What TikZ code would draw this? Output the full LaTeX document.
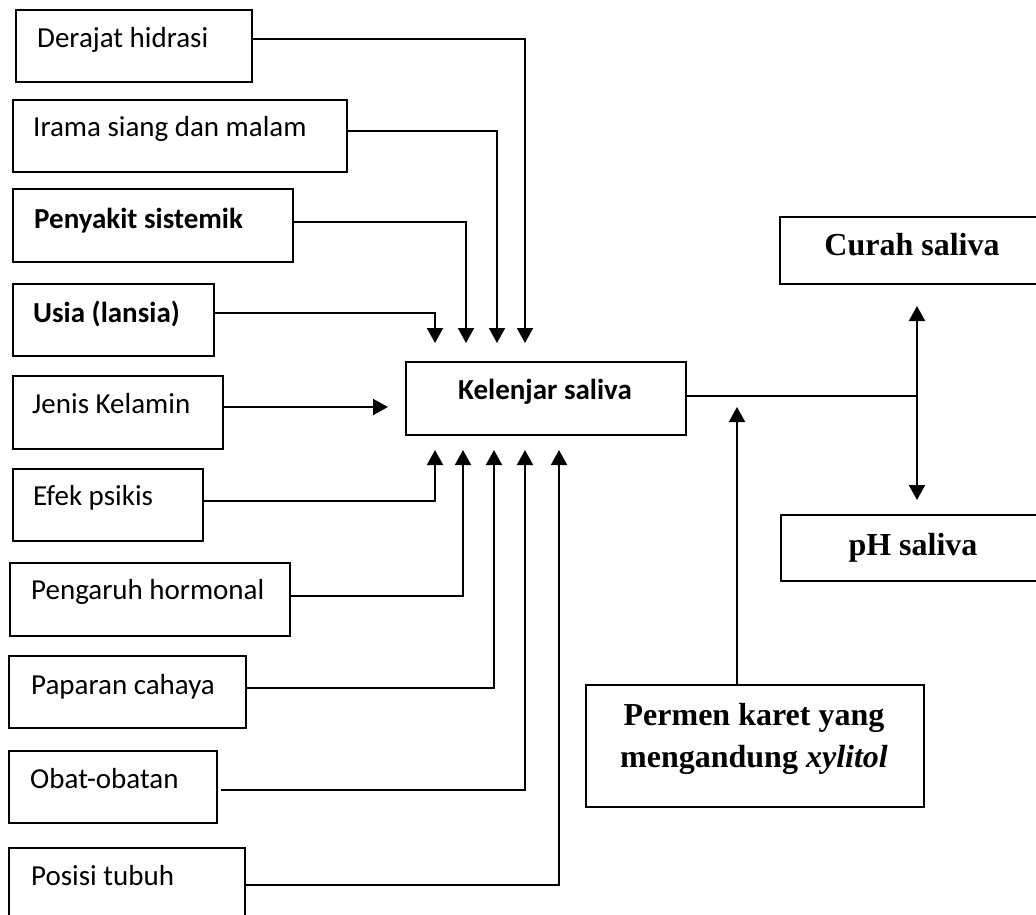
\documentclass[tikz,border=0pt]{standalone}
\usepackage{fontspec}
\setmainfont{Carlito}
\newfontfamily\tnr{Liberation Serif}
\usetikzlibrary{arrows.meta}
\begin{document}
\begin{tikzpicture}[x=1pt,y=-1pt,
  bx/.style={draw=black,line width=2pt,rectangle,inner sep=0pt,anchor=north west},
  lt/.style={inner sep=0pt,anchor=base west,font=\fontsize{29}{35}\selectfont},
  bt/.style={inner sep=0pt,anchor=base,font=\fontsize{29}{35}\selectfont\bfseries},
  tt/.style={inner sep=0pt,font=\tnr\fontsize{32}{42}\selectfont\bfseries,align=center},
  conn/.style={draw=black,line width=2pt},
  arr/.style={conn,-{Triangle[width=16pt,length=15pt]}}]
\fill[white] (0,0) rectangle (1036,915);
\useasboundingbox (0,0) rectangle (1036,915);
% left boxes
\node[bx,minimum width=236pt,minimum height=72pt] (dh) at (15,9) {};
\node[bx,minimum width=334pt,minimum height=72pt] (ir) at (12,99) {};
\node[bx,minimum width=280pt,minimum height=73pt] (ps) at (12,188) {};
\node[bx,minimum width=201pt,minimum height=72pt] (us) at (12,283) {};
\node[bx,minimum width=210pt,minimum height=73pt] (jk) at (12,375) {};
\node[bx,minimum width=190pt,minimum height=72pt] (ef) at (12,468) {};
\node[bx,minimum width=280pt,minimum height=73pt] (pg) at (9,562) {};
\node[bx,minimum width=237pt,minimum height=72pt] (pc) at (8,655) {};
\node[bx,minimum width=208pt,minimum height=72pt] (ob) at (8,750) {};
\node[bx,minimum width=236pt,minimum height=90pt] (pt) at (8,847) {};
% left texts
\node[lt] (dht) at (37,48) {Derajat hidrasi};
\node[lt] (irt) at (33,137) {Irama siang dan malam};
\node[lt,font=\fontsize{29}{35}\selectfont\bfseries] (pst) at (34,228) {Penyakit sistemik};
\node[lt,font=\fontsize{29}{35}\selectfont\bfseries] (ust) at (33,322) {Usia (lansia)};
\node[lt] (jkt) at (32,413) {Jenis Kelamin};
\node[lt] (eft) at (33,505) {Efek psikis};
\node[lt] (pgt) at (31,599) {Pengaruh hormonal};
\node[lt] (pct) at (31,694) {Paparan cahaya};
\node[lt] (obt) at (30,788) {Obat-obatan};
\node[lt] (ptt) at (31,885) {Posisi tubuh};
% centre and right boxes
\node[bx,minimum width=280pt,minimum height=73pt] (kel) at (405,361) {};
\node[bt] (kelt) at (545,399) {Kelenjar saliva};
\node[bx,minimum width=266pt,minimum height=67pt] (cs) at (779,216) {};
\node[tt,anchor=base] (cst) at (912,255) {Curah saliva};
\node[bx,minimum width=265pt,minimum height=66pt] (phs) at (780,514) {};
\node[tt,anchor=base] (phst) at (913,555) {pH saliva};
\node[bx,minimum width=338pt,minimum height=122pt] (pk) at (585,684) {};
\node[tt,anchor=north] (pkt) at (754,703) {Permen karet yang\\mengandung \textit{xylitol}};
% bend coordinates
\coordinate (c1) at (525,39);
\coordinate (c2) at (497,131);
\coordinate (c3) at (466,222);
\coordinate (c4) at (435,313);
\coordinate (c5) at (388,407);
\coordinate (c6) at (435,501);
\coordinate (c7) at (463,596);
\coordinate (c8) at (494,688);
\coordinate (c9) at (525,790);
\coordinate (c10) at (559,885);
\coordinate (j) at (917,396);
\coordinate (c11) at (737,407);
% connectors into Kelenjar (from above)
\draw[arr,shorten >=18pt] (dh.east |- c1) -- (c1) -- (c1 |- kel.north);
\draw[arr,shorten >=18pt] (ir.east |- c2) -- (c2) -- (c2 |- kel.north);
\draw[arr,shorten >=18pt] (ps.east |- c3) -- (c3) -- (c3 |- kel.north);
\draw[arr,shorten >=18pt] (us.east |- c4) -- (c4) -- (c4 |- kel.north);
% from left
\draw[arr,shorten >=17pt] (jk.east |- c5) -- (kel.west |- c5);
% from below
\draw[arr,shorten >=14pt] (ef.east |- c6) -- (c6) -- (c6 |- kel.south);
\draw[arr,shorten >=14pt] (pg.east |- c7) -- (c7) -- (c7 |- kel.south);
\draw[arr,shorten >=14pt] (pc.east |- c8) -- (c8) -- (c8 |- kel.south);
\draw[arr,shorten >=14pt] ([xshift=3pt]ob.east |- c9) -- (c9) -- (c9 |- kel.south);
\draw[arr,shorten >=14pt] (pt.east |- c10) -- (c10) -- (c10 |- kel.south);
% right side
\draw[conn] (kel.east |- j) -- (j);
\draw[arr,shorten >=21pt] (j) -- (j |- cs.south);
\draw[arr,shorten >=14pt] (j) -- (j |- phs.north);
\draw[arr] (pk.north -| c11) -- (c11);
\end{tikzpicture}
\end{document}
